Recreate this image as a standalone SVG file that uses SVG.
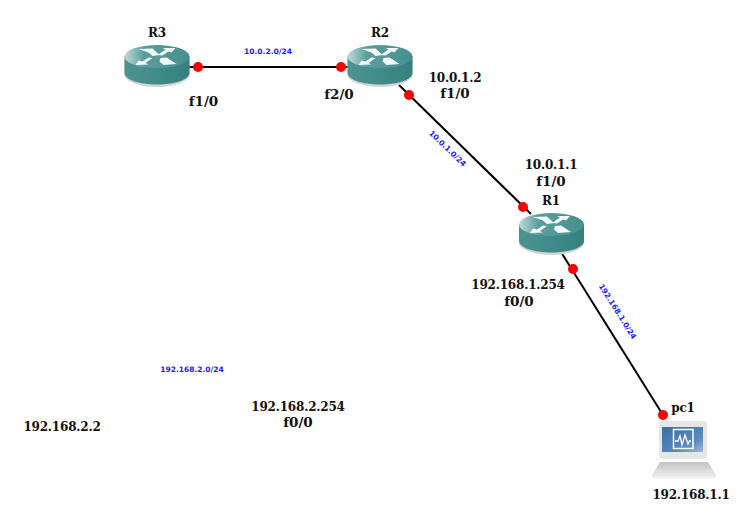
<svg xmlns="http://www.w3.org/2000/svg" width="753" height="527" viewBox="0 0 753 527">
<style>
text{font-family:"DejaVu Serif",serif;font-weight:700;font-size:12px;letter-spacing:-.2px;fill:#111;text-anchor:middle}
.f{font-size:13.500px;letter-spacing:0}
.n{font-family:"DejaVu Sans",sans-serif;font-size:7.500px;letter-spacing:0;fill:#1a1aff}
.c line{stroke:#000;stroke-width:2}
.c circle{fill:#f00}
</style>
<defs>
<linearGradient id="top" x1="0" x2="1" y1="0" y2="0"><stop offset="0" stop-color="#c0dad9"/><stop offset=".3" stop-color="#5a9e9c"/><stop offset="1" stop-color="#44908e"/></linearGradient>
<linearGradient id="side" x1="0" x2="1" y1="0" y2="0"><stop offset="0" stop-color="#4e9290"/><stop offset=".5" stop-color="#3f8c8a"/><stop offset="1" stop-color="#35807e"/></linearGradient>
<linearGradient id="scr" x1="0" x2="1" y1="0" y2="1"><stop offset="0" stop-color="#3a6ea5"/><stop offset=".7" stop-color="#5a8cbc"/><stop offset="1" stop-color="#9dbcd8"/></linearGradient>
<linearGradient id="base" x1="0" x2="0" y1="0" y2="1"><stop offset="0" stop-color="#c4c4c4"/><stop offset="1" stop-color="#f4f4f4"/></linearGradient>
<g id="router">
<path d="M0 14V30C0 36 14.500 42 32.500 42S65 36 65 30V14Z" fill="#d4d4d4"/>
<path d="M0 11V28C0 34.500 14.500 39.500 32.500 39.500S65 34.500 65 28V11Z" fill="url(#side)"/>
<ellipse cx="32.500" cy="11.500" rx="32.500" ry="11.500" fill="url(#top)"/>
<path d="M14 4L28 3.500 35 10 28 11 24 7.500Z" fill="#f4f8f8"/>
<path d="M33 10L41 4.500 38 3 51 3 47 7.500 44 6.500 38 10.500Z" fill="#f4f8f8"/>
<path d="M28 13L21 18 24 19.500 11 20 14 15.500 18 16.500 24 12.500Z" fill="#f4f8f8"/>
<path d="M36 13L42 12.500 52 19 39 20 35 16.500Z" fill="#f4f8f8"/>
</g>
</defs>
<rect width="753" height="527" fill="#fff"/>
<g class="c" id="connectors">
<line x1="189" y1="67" x2="348" y2="67"/>
<line x1="399" y1="85" x2="531" y2="214"/>
<line x1="561" y1="252" x2="663" y2="415"/>
<circle cx="198" cy="67" r="5"/><circle cx="341" cy="67" r="5"/>
<circle cx="409" cy="95" r="5"/><circle cx="523" cy="207" r="5"/>
<circle cx="573" cy="269" r="5"/><circle cx="663" cy="415" r="5"/>
<text class="n" x="268" y="54">10.0.2.0/24</text>
<text class="n" transform="translate(447.500 148.500) rotate(44)" y="2.500">10.0.1.0/24</text>
<text class="n" transform="translate(617.500 311.500) rotate(58)" y="2.500">192.168.1.0/24</text>
<text class="n" x="192" y="372">192.168.2.0/24</text>
</g>
<g id="R3"><use href="#router" x="124.500" y="45"/><text x="157" y="37">R3</text><text class="f" x="203.500" y="106">f1/0</text></g>
<g id="R2"><use href="#router" x="347.500" y="45"/><text x="380" y="37">R2</text><text class="f" x="339" y="99">f2/0</text><text x="455" y="82">10.0.1.2</text><text class="f" x="455" y="98">f1/0</text></g>
<g id="R1"><use href="#router" x="519" y="213"/><text x="551" y="205">R1</text><text x="551" y="169">10.0.1.1</text><text class="f" x="551" y="186">f1/0</text><text x="518" y="289">192.168.1.254</text><text class="f" x="519" y="306">f0/0</text></g>
<g id="pc1">
<rect x="659" y="421" width="48" height="38" rx="4" fill="#e6e6e6"/>
<rect x="662" y="427" width="41" height="25" fill="url(#scr)"/>
<rect x="673.500" y="429.500" width="19.500" height="19" fill="none" stroke="#fff" stroke-width="1.500"/>
<path d="M675 441H678L680 436 682 445 685 435 688 444 689.500 441H691" fill="none" stroke="#fff" stroke-width="1.300"/>
<path d="M660 462H708L716 475Q716 479 710 479H658Q652 479 652 475Z" fill="url(#base)"/>
<text x="683" y="412">pc1</text><text x="691" y="499">192.168.1.1</text>
</g>
<g id="labels"><text x="298" y="411">192.168.2.254</text><text class="f" x="298" y="427">f0/0</text><text x="62" y="431">192.168.2.2</text></g>
</svg>
